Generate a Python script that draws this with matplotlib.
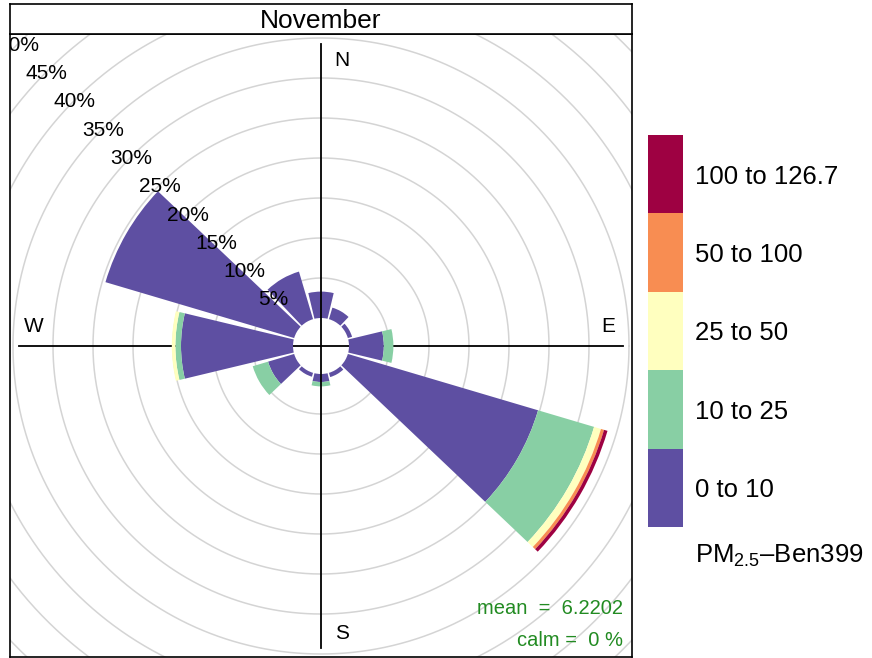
import matplotlib
matplotlib.use("Agg")
import matplotlib.pyplot as plt
from matplotlib.patches import Wedge
import matplotlib.transforms as mtransforms
import numpy as np

plt.rcParams['font.family'] = ['Liberation Sans', 'DejaVu Sans']
plt.rcParams['mathtext.fontset'] = 'custom'
plt.rcParams['mathtext.rm'] = 'Liberation Sans'
plt.rcParams['mathtext.it'] = 'Liberation Sans:italic'

# ---------------- data ----------------
panel_title = "November"
directions = [0, 30, 60, 90, 120, 150, 180, 210, 240, 270, 300, 330]
bin_labels = ["0 to 10", "10 to 25", "25 to 50", "50 to 100", "100 to 126.7"]
bin_colors = ["#5E4FA2", "#88CFA4", "#FFFFBF", "#F88D52", "#9E0142"]
pm_0_10 = [3.3, 1.5, 0.55, 4.35, 24.8, 0.55, 1.0, 0.5, 3.4, 14.0, 24.6, 6.2]
pm_10_25 = [0, 0, 0, 1.2, 7.3, 0, 0.55, 0, 2.0, 0.7, 0, 0]
pm_25_50 = [0, 0, 0, 0, 0.9, 0, 0, 0, 0, 0.45, 0, 0]
pm_50_100 = [0, 0, 0, 0, 0.4, 0, 0, 0, 0, 0, 0, 0]
pm_100_127 = [0, 0, 0, 0, 0.45, 0, 0, 0, 0, 0, 0, 0]
grid_pcts = [5, 10, 15, 20, 25, 30, 35, 40, 45, 50, 55]
label_pcts = [5, 10, 15, 20, 25, 30, 35, 40, 45, 50]
legend_title = r"PM$_{\mathrm{2.5}}$–Ben399"
mean_text = "mean  =  6.2202"
calm_text = "calm =  0 %"

series = [pm_0_10, pm_10_25, pm_25_50, pm_50_100, pm_100_127]

# ---------------- figure ----------------
W, H = 872, 658
fig = plt.figure(figsize=(W / 100, H / 100), dpi=100)

def px_axes(x0, y0, x1, y1):
    return fig.add_axes([x0 / W, 1 - y1 / H, (x1 - x0) / W, (y1 - y0) / H])

offset = 3.5
half = 13.5
lim = 38.875

ax = px_axes(10, 34, 632, 657)
ax.set_xlim(-lim, lim)
ax.set_ylim(-lim, 39.0)
ax.set_xticks([])
ax.set_yticks([])
for s in ax.spines.values():
    s.set_linewidth(1.2)
    s.set_color("black")

# grid circles
th = np.linspace(0, 2 * np.pi, 721)
for p in grid_pcts:
    r = offset + p
    ax.plot(r * np.cos(th), r * np.sin(th), color="#d4d4d4", lw=1.1, zorder=1)

# horizontal axis line (under wedges)
ax.plot([-37.75, 37.75], [0, 0], color="black", lw=1.3, zorder=2)

# wedges
for i, d in enumerate(directions):
    cum = offset
    for k, vals in enumerate(series):
        v = vals[i]
        if v <= 0:
            continue
        w = Wedge((0, 0), cum + v, 90 - (d + half), 90 - (d - half), width=v,
                  facecolor=bin_colors[k], edgecolor="none", zorder=3)
        ax.add_patch(w)
        cum += v

# vertical axis line (over wedges)
ax.plot([0, 0], [-37.75, 37.75], color="black", lw=1.3, zorder=4)

# percent labels along NW
for p in label_pcts:
    r = offset + p
    ax.text(-r * np.sin(np.radians(45)), r * np.cos(np.radians(45)) - 0.25, f"{p}%",
            ha="center", va="center", fontsize=15, zorder=5, clip_on=True)

# compass labels
ax.text(2.6, 35.65, "N", ha="center", va="center", fontsize=15, zorder=5)
ax.text(2.6, -35.95, "S", ha="center", va="center", fontsize=15, zorder=5)
ax.text(35.9, 2.45, "E", ha="center", va="center", fontsize=15, zorder=5)
ax.text(-35.9, 2.45, "W", ha="center", va="center", fontsize=15, zorder=5)

# mean / calm
ax.text(37.7, (346 - 609) / 8, mean_text, ha="right", va="center",
        fontsize=14.5, color="#228B22", zorder=5)
ax.text(37.7, (346 - 641) / 8, calm_text, ha="right", va="center",
        fontsize=14.5, color="#228B22", zorder=5)

# strip
sax = px_axes(10, 4, 632, 34)
sax.set_xticks([])
sax.set_yticks([])
for s in sax.spines.values():
    s.set_linewidth(1.2)
sax.text(0.5, 0.44, panel_title, ha="center", va="center", fontsize=19,
         transform=sax.transAxes)

# legend
lax = px_axes(648, 135, 683, 527)
lax.set_xlim(0, 1)
lax.set_ylim(0, len(bin_labels))
lax.axis("off")
lax.bar([0.5] * len(bin_labels), [1] * len(bin_labels), width=1.0,
        bottom=list(range(len(bin_labels))), color=bin_colors, edgecolor="none")
trans = mtransforms.blended_transform_factory(lax.transAxes, lax.transData)
for i, lab in enumerate(bin_labels):
    lax.text(47 / 35, i + 0.5 - 2.5 / 78.4, lab, ha="left", va="center",
             fontsize=18.5, transform=trans)
lax.text(47 / 35, -28.5 / 78.4, legend_title, ha="left", va="center",
         fontsize=18.5, transform=trans)

fig.savefig("out.png", dpi=100)
